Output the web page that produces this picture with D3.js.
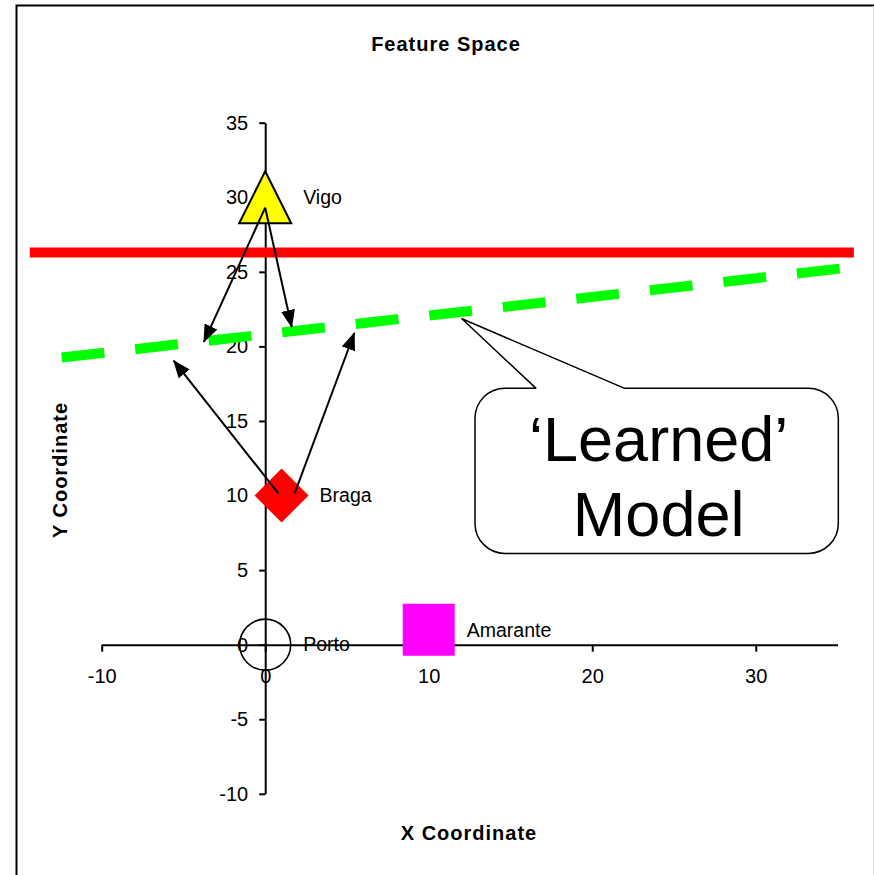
<!DOCTYPE html>
<html>
<head>
<meta charset="utf-8">
<script src="https://cdn.jsdelivr.net/npm/d3@7"></script>
<style>
  body { margin: 0; background: #fff; }
  text { font-family: Arial, "Liberation Sans", sans-serif; }
</style>
</head>
<body>
<div id="chart"></div>
<script>
// Datos del grafico
const xTicks = [-10, 0, 10, 20, 30];
const yTicks = [-10, -5, 0, 5, 10, 15, 20, 25, 30, 35];

const cities = ["Vigo", "Braga", "Porto", "Amarante"];
const cityX = [0, 1, 0, 10];
const cityY = [30, 10, 0, 1];
const cityShape = ["triangle", "diamond", "circle", "square"];
const cityColor = ["#ffff00", "#ff0000", "none", "#ff00ff"];

// linea roja (frontera fija) y linea verde (modelo aprendido)
const redLineX = [-14.4, 36];
const redLineY = [26.3, 26.3];
const greenLineX = [-12.45, 35.57];
const greenLineY = [19.25, 25.27];

// flechas
const arrowFromX = [0, 0, 0.8, 1.8];
const arrowFromY = [29.3, 29.3, 10.15, 10.15];
const arrowToX = [-3.75, 1.62, -5.6, 5.45];
const arrowToY = [20.3, 21.3, 19.05, 20.9];

// callout
const calloutBox = { x0: 12.83, x1: 35.05, y0: 17.2, y1: 6.12 };
const calloutBaseX = [16.55, 21.95];
const calloutTip = { x: 12.03, y: 21.85 };
const calloutLines = ["\u2018Learned\u2019", "Model"];

// Dimensiones
const width = 874;
const height = 875;

const svg = d3.select("#chart")
    .append("svg")
    .attr("width", width)
    .attr("height", height);

// marco
svg.append("rect")
    .attr("x", 16.5).attr("y", 5.5)
    .attr("width", 900).attr("height", 900)
    .attr("fill", "#fff")
    .attr("stroke", "#000")
    .attr("stroke-width", 2);
svg.append("line")
    .attr("x1", 873.5).attr("x2", 873.5)
    .attr("y1", 6).attr("y2", height)
    .attr("stroke", "#d9d9d9").attr("stroke-width", 1);

// Escalas
const x = d3.scaleLinear().domain([-10, 35]).range([101.7, 837.5]);
const y = d3.scaleLinear().domain([-10, 35]).range([793.8, 122.7]);

// Ejes (guion normal en los negativos, como el original)
const fmt = d => String(d);
const ejeX = d3.axisBottom(x).tickValues(xTicks).tickFormat(fmt)
    .tickSize(7).tickSizeOuter(0).tickPadding(17.5);
const ejeY = d3.axisLeft(y).tickValues(yTicks).tickFormat(fmt)
    .tickSize(6).tickSizeOuter(0).tickPadding(11);

const contenedorEjeX = svg.append("g")
    .attr("transform", `translate(0, ${y(0)})`)
    .call(ejeX);
const contenedorEjeY = svg.append("g")
    .attr("transform", `translate(${x(0)}, 0)`)
    .call(ejeY);

[contenedorEjeX, contenedorEjeY].forEach(g => {
    g.select(".domain").attr("stroke", "#000").attr("stroke-width", 2);
    g.selectAll(".tick line").attr("stroke", "#000").attr("stroke-width", 2);
    g.selectAll(".tick text")
        .attr("fill", "#000")
        .style("font-size", "20px")
        .style("font-family", "Arial, 'Liberation Sans', sans-serif");
});

// linea roja
svg.append("line")
    .attr("x1", x(redLineX[0])).attr("y1", y(redLineY[0]))
    .attr("x2", x(redLineX[1])).attr("y2", y(redLineY[1]))
    .attr("stroke", "#ff0000")
    .attr("stroke-width", 10);

// linea verde discontinua
svg.append("line")
    .attr("x1", x(greenLineX[0])).attr("y1", y(greenLineY[0]))
    .attr("x2", x(greenLineX[1])).attr("y2", y(greenLineY[1]))
    .attr("stroke", "#00ff00")
    .attr("stroke-width", 10)
    .attr("stroke-dasharray", "43 31");

// Marcadores
const S = 26;
const shapePath = {
    triangle: `M0,${-S}L${S},${S}L${-S},${S}Z`,
    diamond: `M0,${-S - 1}L${S + 1},0L0,${S + 1}L${-S - 1},0Z`,
    square: `M${-S},${-S}L${S},${-S}L${S},${S}L${-S},${S}Z`
};

const puntos = cities.map((c, i) => ({
    name: c, x: cityX[i], y: cityY[i], shape: cityShape[i], color: cityColor[i]
}));

const marcadores = svg.append("g");
puntos.forEach(d => {
    if (d.shape === "circle") {
        marcadores.append("circle")
            .attr("cx", x(d.x)).attr("cy", y(d.y))
            .attr("r", 25.5)
            .attr("fill", "none")
            .attr("stroke", "#000")
            .attr("stroke-width", 1.6);
    } else {
        marcadores.append("path")
            .attr("transform", `translate(${x(d.x)}, ${y(d.y)})`)
            .attr("d", shapePath[d.shape])
            .attr("fill", d.color)
            .attr("stroke", d.shape === "triangle" ? "#000" : "none")
            .attr("stroke-width", 2);
    }
    marcadores.append("text")
        .attr("x", x(d.x) + 38)
        .attr("y", y(d.y))
        .attr("dy", "0.35em")
        .style("font-size", "19.5px")
        .attr("fill", "#000")
        .text(d.name);
});

// Flechas
svg.append("defs")
    .append("marker")
    .attr("id", "punta")
    .attr("markerUnits", "userSpaceOnUse")
    .attr("viewBox", "0 0 18 14")
    .attr("refX", 17).attr("refY", 7)
    .attr("markerWidth", 18).attr("markerHeight", 14)
    .attr("orient", "auto")
    .append("path")
    .attr("d", "M0,0L18,7L0,14Z")
    .attr("fill", "#000");

arrowFromX.forEach((_, i) => {
    svg.append("line")
        .attr("x1", x(arrowFromX[i])).attr("y1", y(arrowFromY[i]))
        .attr("x2", x(arrowToX[i])).attr("y2", y(arrowToY[i]))
        .attr("stroke", "#000")
        .attr("stroke-width", 2)
        .attr("marker-end", "url(#punta)");
});

// Callout
const bx0 = x(calloutBox.x0), bx1 = x(calloutBox.x1);
const by0 = y(calloutBox.y0), by1 = y(calloutBox.y1);
const r = 30;
const callPath = [
    `M${x(calloutBaseX[0])},${by0}`,
    `L${x(calloutTip.x)},${y(calloutTip.y)}`,
    `L${x(calloutBaseX[1])},${by0}`,
    `L${bx1 - r},${by0}`,
    `A${r},${r} 0 0 1 ${bx1},${by0 + r}`,
    `L${bx1},${by1 - r}`,
    `A${r},${r} 0 0 1 ${bx1 - r},${by1}`,
    `L${bx0 + r},${by1}`,
    `A${r},${r} 0 0 1 ${bx0},${by1 - r}`,
    `L${bx0},${by0 + r}`,
    `A${r},${r} 0 0 1 ${bx0 + r},${by0}`,
    "Z"
].join("");

svg.append("path")
    .attr("d", callPath)
    .attr("fill", "#fff")
    .attr("stroke", "#000")
    .attr("stroke-width", 1.5)
    .attr("stroke-linejoin", "round");

calloutLines.forEach((t, i) => {
    svg.append("text")
        .attr("x", (bx0 + bx1) / 2 + 2)
        .attr("y", by0 + 73 + i * 75)
        .attr("text-anchor", "middle")
        .style("font-size", "63px")
        .attr("fill", "#000")
        .text(t);
});

// Titulos
const tituloStyle = sel => sel
    .attr("text-anchor", "middle")
    .style("font-size", "20px")
    .style("font-weight", "bold")
    .style("letter-spacing", "1px");

svg.append("text")
    .attr("x", 446).attr("y", 51)
    .call(tituloStyle)
    .text("Feature Space");

svg.append("text")
    .attr("x", 469).attr("y", 840)
    .call(tituloStyle)
    .text("X Coordinate");

svg.append("text")
    .attr("transform", "translate(67, 470) rotate(-90)")
    .call(tituloStyle)
    .text("Y Coordinate");
</script>
</body>
</html>
